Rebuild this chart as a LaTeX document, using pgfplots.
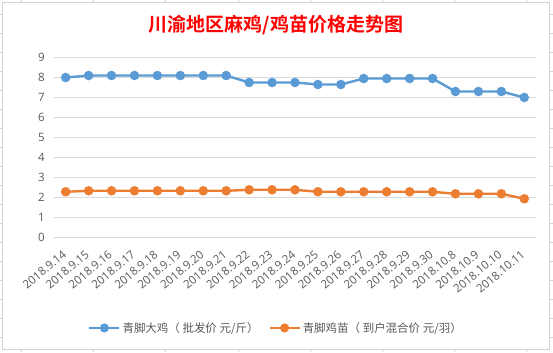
\documentclass[border=0pt]{standalone}
\usepackage{fontspec}
\setmainfont{Noto Sans CJK SC}[BoldFont={Noto Sans CJK SC Bold}]
\newfontfamily\lat{Open Sans}
\usepackage{pgfplots}
\pgfplotsset{compat=1.18}
\definecolor{sblue}{RGB}{91,155,213}
\definecolor{sorange}{RGB}{237,125,49}
\definecolor{gridc}{RGB}{217,217,217}
\definecolor{txtc}{RGB}{89,89,89}
\definecolor{framec}{RGB}{212,212,212}
\begin{document}
\begin{tikzpicture}[x=1pt,y=1pt]
\path[fill=white] (0,0) rectangle (553,352);
% Excel cell grid stubs outside chart
\foreach \yy in {14,33,52,71,90,109,128,147,166,185,204,223,242,261,280,299,318,337}{
  \draw[framec,line width=0.6pt] (0,352-\yy) -- (2,352-\yy);
  \draw[framec,line width=0.6pt] (550,352-\yy) -- (553,352-\yy);
}
\foreach \xx in {21,93,165,238,310,382,454,527}{
  \draw[framec,line width=0.6pt] (\xx,352) -- (\xx,350);
  \draw[framec,line width=0.6pt] (\xx,0) -- (\xx,3);
}
\draw[framec,line width=0.8pt] (2.5,3) rectangle (550,349.5);
\node[text=red,font=\fontsize{19}{21}\selectfont\bfseries] at (276,327) {川渝地区麻鸡/鸡苗价格走势图};
\begin{axis}[
  at={(54pt,114.7pt)}, anchor=south west,
  scale only axis, width=482pt, height=180pt,
  xmin=-0.5, xmax=20.5, ymin=0, ymax=9,
  ytick={0,1,...,9},
  xtick={0,1,...,20},
  xticklabels={2018.9.14,2018.9.15,2018.9.16,2018.9.17,2018.9.18,2018.9.19,2018.9.20,2018.9.21,2018.9.22,2018.9.23,2018.9.24,2018.9.25,2018.9.26,2018.9.27,2018.9.28,2018.9.29,2018.9.30,2018.10.8,2018.10.9,2018.10.10,2018.10.11},
  /pgf/number format/assume math mode=true,
  axis line style={draw=none},
  major tick length=0pt,
  ymajorgrids, grid style={gridc,line width=0.8pt},
  tick label style={text=txtc,font=\lat\fontsize{11.5}{12}\selectfont},
  yticklabel style={xshift=-6pt},
  xticklabel style={xshift=-4pt,yshift=-12pt,rotate=40,anchor=north east,inner sep=0pt,font=\lat\fontsize{11.5}{13}\selectfont},
  legend style={at={(0.4606,-0.504)},anchor=center,legend columns=2,draw=none,fill=none,
    font=\fontsize{11.5}{13}\selectfont,text=txtc,
    /tikz/every even column/.append style={column sep=8pt}},
  legend image code/.code={
    \draw[#1,mark=none] (0cm,0cm) -- (1.05cm,0cm);
    \fill[#1] (0.525cm,0cm) circle (3.3pt);
  },
]
\addplot[sblue,line width=2.4pt,mark=*,mark size=3.5pt,mark options={solid,fill=sblue,draw=none}] coordinates {
(0,8.0)(1,8.1)(2,8.1)(3,8.1)(4,8.1)(5,8.1)(6,8.1)(7,8.1)(8,7.75)(9,7.75)(10,7.75)(11,7.65)(12,7.65)(13,7.95)(14,7.95)(15,7.95)(16,7.95)(17,7.3)(18,7.3)(19,7.3)(20,7.0)};
\addlegendentry{青脚大鸡（ 批发价 元/斤）}
\addplot[sorange,line width=2.4pt,mark=*,mark size=3.5pt,mark options={solid,fill=sorange,draw=none}] coordinates {
(0,2.28)(1,2.33)(2,2.33)(3,2.33)(4,2.33)(5,2.33)(6,2.33)(7,2.33)(8,2.38)(9,2.38)(10,2.38)(11,2.28)(12,2.28)(13,2.28)(14,2.28)(15,2.28)(16,2.28)(17,2.18)(18,2.18)(19,2.18)(20,1.93)};
\addlegendentry{青脚鸡苗（ 到户混合价 元/羽）}
\end{axis}
\end{tikzpicture}
\end{document}
